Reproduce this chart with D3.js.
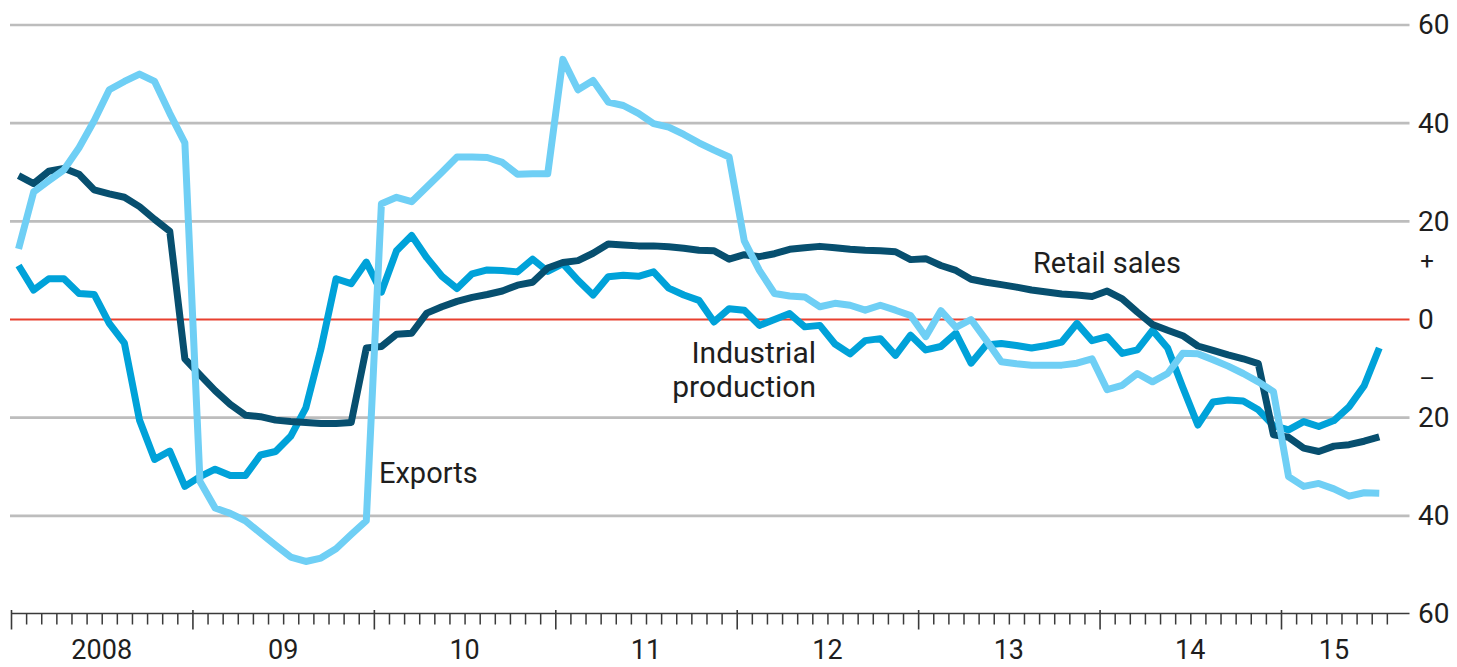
<!DOCTYPE html>
<html>
<head>
<meta charset="utf-8">
<script src="https://cdn.jsdelivr.net/npm/d3@7"></script>
<style>
  html, body { margin: 0; padding: 0; background: #fff; }
  svg { display: block; }
  text { font-family: Roboto, "Open Sans", sans-serif; fill: #1e1e1e; }
</style>
</head>
<body>
<svg id="chart" width="1457" height="667"></svg>
<script>
// ---- Data (monthly, Jan 2008 – Jul 2015, % change on a year earlier) ----
const startYear = 2008;
const yearLabels = ["2008", "09", "10", "11", "12", "13", "14", "15"];
const yTicks = [60, 40, 20, 0, -20, -40, -60];

const retailSales = [29.3,27.7,30.2,30.8,29.6,26.4,25.6,24.9,23,20.4,18,
  -8,-11.3,-14.5,-17.3,-19.5,-19.8,-20.5,-20.8,-21,-21.2,-21.2,-21,
  -5.8,-5.5,-3,-2.8,1.3,2.6,3.7,4.5,5.1,5.8,7,7.6,
  10.5,11.6,12,13.5,15.4,15.2,15,15,14.8,14.5,14.1,14,
  12.3,13.2,12.8,13.4,14.3,14.6,14.9,14.6,14.3,14.1,14,13.8,
  12.2,12.4,11,10,8.2,7.6,7.1,6.6,6,5.6,5.2,5.0,
  4.7,5.8,4.2,1.5,-1,-2.2,-3.3,-5.4,-6.3,-7.2,-8,-9,
  -23.5,-24,-26.2,-26.9,-25.8,-25.5,-24.8,-23.9];

const industrialProduction = [11,6,8.3,8.3,5.3,5.1,-0.8,-4.8,-20.5,-28.5,-26.8,-34,
  -32,-30.5,-31.8,-31.8,-27.6,-26.9,-23.8,-18,-6,8.3,7.3,11.7,
  5.6,14,17.1,12.6,8.8,6.3,9.3,10.1,10,9.7,12.3,9.8,
  11.4,8,5,8.7,9,8.8,9.7,6.4,5,3.9,-0.5,2.2,
  1.9,-1.2,0,1.2,-1.5,-1.2,-5,-7,-4.3,-3.9,-7.3,-3.2,
  -6.2,-5.5,-2.8,-8.9,-5.2,-4.9,-5.3,-5.8,-5.3,-4.6,-0.8,-4.3,
  -3.5,-6.9,-6.2,-2.2,-5.8,-13.8,-21.5,-16.8,-16.4,-16.6,-18.4,-21.6,
  -22.5,-20.8,-21.8,-20.6,-17.8,-13.5,-5.8];

const exportsData = [14.4,26,28.3,30.5,35,40.5,46.8,48.5,50,48.5,42,36,
  -33,-38.4,-39.5,-41,-43.5,-46,-48.4,-49.3,-48.6,-46.7,-43.8,-41,
  23.6,24.9,24,27,30,33.1,33.1,33,32,29.6,29.7,29.7,
  53,46.8,48.7,44.3,43.6,42,39.9,39.2,37.7,36,34.5,33.1,
  16,10,5.3,4.8,4.6,2.6,3.3,2.9,1.9,2.9,1.9,0.8,
  -3.5,1.8,-1.6,0,-4.2,-8.6,-9,-9.3,-9.3,-9.3,-8.9,-8,
  -14.3,-13.4,-11,-12.7,-11,-6.9,-7,-8.2,-9.5,-11,-12.7,-14.7,
  -32,-34,-33.4,-34.5,-36,-35.3,-35.4];

const lastTickMonth = 91;   // Aug 2015 boundary
const axisEndMonth = 92.5;

// ---- Layout ----
const svg = d3.select("#chart");
const x = d3.scaleLinear().domain([0, 84]).range([11, 1281]);   // months since Jan 2008
const y = d3.scaleLinear().domain([-60, 60]).range([614, 25]);
const gridLeft = 10, gridRight = x(axisEndMonth);

// gridlines
const gridVals = yTicks.filter(v => v !== -60);
svg.append("g").selectAll("line").data(gridVals).join("line")
  .attr("x1", gridLeft).attr("x2", gridRight)
  .attr("y1", d => y(d)).attr("y2", d => y(d))
  .attr("stroke", d => d === 0 ? "#e8402f" : "#bdbdbd")
  .attr("stroke-width", d => d === 0 ? 2 : 2.6);

// right axis labels
const yAxis = d3.axisRight(y).tickValues(yTicks).tickSize(0).tickPadding(0)
  .tickFormat(d => String(Math.abs(d)));
const yg = svg.append("g").attr("transform", `translate(${1418},0)`).call(yAxis);
yg.select(".domain").remove();
yg.selectAll("text").attr("font-size", 28).attr("fill", "#1e1e1e")
  .attr("font-family", "Roboto, sans-serif").attr("text-anchor", "start").attr("x", 0);
svg.append("text").attr("x", 1427).attr("y", y(12)).attr("dy", "0.35em")
  .attr("text-anchor", "middle").attr("font-size", 24).text("+");
svg.append("text").attr("x", 1427).attr("y", y(-12)).attr("dy", "0.35em")
  .attr("text-anchor", "middle").attr("font-size", 24).text("\u2013");

// bottom axis
const axisY = 613.5;
const monthTicks = d3.range(0, lastTickMonth + 1).filter(m => m % 12 !== 0);
const yearTicks = d3.range(0, lastTickMonth + 1, 12);
const minorAxis = d3.axisBottom(x).tickValues(monthTicks).tickSize(11).tickFormat("");
const mg = svg.append("g").attr("transform", `translate(0,${axisY})`).call(minorAxis);
mg.select(".domain").remove();
mg.selectAll("line").attr("stroke", "#3a3a3a").attr("stroke-width", 1.5);
const majorAxis = d3.axisBottom(x).tickValues(yearTicks).tickSize(16).tickFormat("");
const jg = svg.append("g").attr("transform", `translate(0,${axisY})`).call(majorAxis);
jg.select(".domain").remove();
jg.selectAll("line").attr("y1", -3.5).attr("stroke", "#3a3a3a").attr("stroke-width", 1.6);
svg.append("line").attr("x1", x(0)).attr("x2", gridRight)
  .attr("y1", axisY).attr("y2", axisY).attr("stroke", "#3a3a3a").attr("stroke-width", 1.6);

svg.append("g").selectAll("text").data(yearLabels).join("text")
  .attr("x", (d, i) => x((i * 12 + Math.min(i * 12 + 12, lastTickMonth)) / 2))
  .attr("y", 659)
  .attr("text-anchor", "middle").attr("font-size", 27).text(d => d);

// lines
const line = d3.line().x((d, i) => x(i + 0.5)).y(d => y(d)).curve(d3.curveLinear);
const series = [
  { name: "Industrial production", values: industrialProduction, color: "#00a2d9" },
  { name: "Retail sales", values: retailSales, color: "#074f6f" },
  { name: "Exports", values: exportsData, color: "#6fcff5" }
];
svg.append("g").selectAll("path").data(series).join("path")
  .attr("d", d => line(d.values))
  .attr("fill", "none").attr("stroke", d => d.color)
  .attr("stroke-width", 7).attr("stroke-linejoin", "round").attr("stroke-linecap", "butt");

// labels
svg.append("text").attr("x", 1033).attr("y", 273).attr("font-size", 29).text("Retail sales");
svg.append("text").attr("x", 816).attr("y", 363).attr("text-anchor", "end").attr("font-size", 30).text("Industrial");
svg.append("text").attr("x", 816).attr("y", 397).attr("text-anchor", "end").attr("font-size", 30).text("production");
svg.append("text").attr("x", 379).attr("y", 483).attr("font-size", 29).text("Exports");
</script>
</body>
</html>
